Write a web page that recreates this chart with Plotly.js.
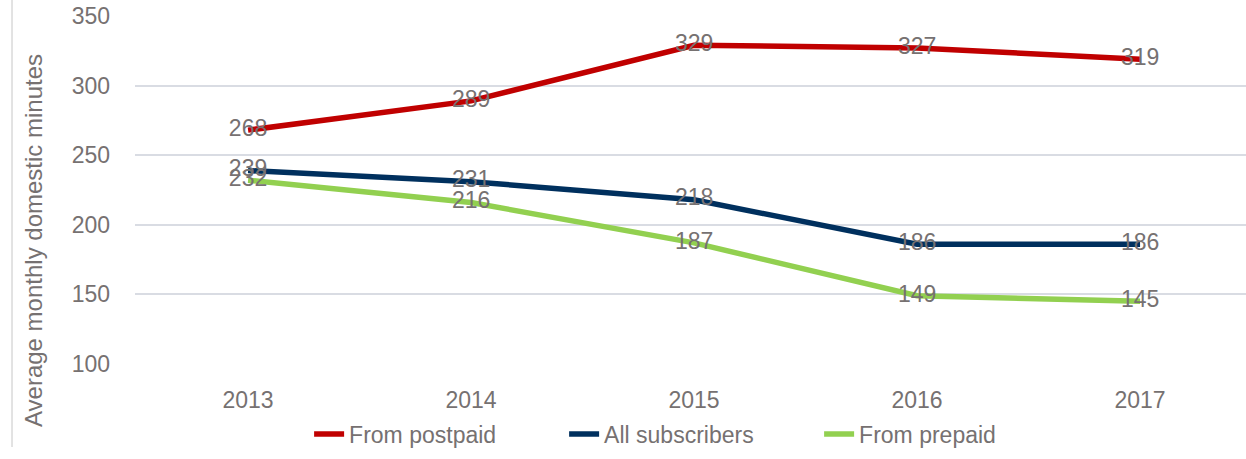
<!DOCTYPE html>
<html>
<head>
<meta charset="utf-8">
<script src="https://cdn.plot.ly/plotly-3.0.1.min.js"></script>
<style>html,body{margin:0;padding:0;background:#fff;}#chart{width:1246px;height:459px;}</style>
</head>
<body>
<div id="chart"></div>
<script>
const years = ["2013", "2014", "2015", "2016", "2017"];
const postpaid = [268, 289, 329, 327, 319];
const allSubscribers = [239, 231, 218, 186, 186];
const prepaid = [232, 216, 187, 149, 145];
const seriesNames = ["From postpaid", "All subscribers", "From prepaid"];
const yTicks = [100, 150, 200, 250, 300, 350];

const FONT = "Liberation Sans, Arial, sans-serif";
const GRAY = "#767171";

function tr(name, y, color) {
  return {
    type: "scatter", mode: "lines+text", name: name,
    x: years, y: y, text: y.map(String), textposition: "middle center",
    textfont: {family: FONT, size: 23, color: GRAY},
    line: {color: color, width: 5.5}, cliponaxis: false, hoverinfo: "skip"
  };
}

const data = [
  tr(seriesNames[0], postpaid, "#C00000"),
  tr(seriesNames[1], allSubscribers, "#00305E"),
  tr(seriesNames[2], prepaid, "#92D050")
];

const layout = {
  width: 1246, height: 459,
  margin: {l: 135, r: 0, t: 16, b: 95},
  paper_bgcolor: "#fff", plot_bgcolor: "#fff",
  font: {family: FONT, size: 23, color: GRAY},
  showlegend: true,
  legend: {orientation: "h", x: 0.501, xanchor: "center", y: -0.201, yanchor: "middle",
           font: {family: FONT, size: 23, color: GRAY}, traceorder: "normal",
           entrywidth: 210, entrywidthmode: "pixels"},
  xaxis: {type: "category", range: [-0.507, 4.475], showgrid: false, zeroline: false,
          showline: false, ticks: "", ticklabelstandoff: 20,
          tickfont: {family: FONT, size: 23, color: GRAY}},
  yaxis: {range: [100, 350], tickvals: yTicks, showgrid: true, gridcolor: "#D9DCE3", gridwidth: 2,
          zeroline: false, showline: false, ticks: "", ticklabelstandoff: 24,
          tickfont: {family: FONT, size: 23, color: GRAY}},
  annotations: [{
    text: "Average monthly domestic minutes", xref: "paper", yref: "paper",
    x: -0.0918, y: (364 - 241) / 348, textangle: -90, showarrow: false,
    xanchor: "center", yanchor: "middle", font: {family: FONT, size: 24, color: GRAY}
  }],
  shapes: [{
    type: "line", xref: "paper", yref: "paper", x0: -0.1107, x1: -0.1107, y0: -0.2385, y1: 1.1,
    line: {color: "#D9D9D9", width: 1.5}
  }]
};

Plotly.newPlot("chart", data, layout, {displayModeBar: false, staticPlot: true});
</script>
</body>
</html>
